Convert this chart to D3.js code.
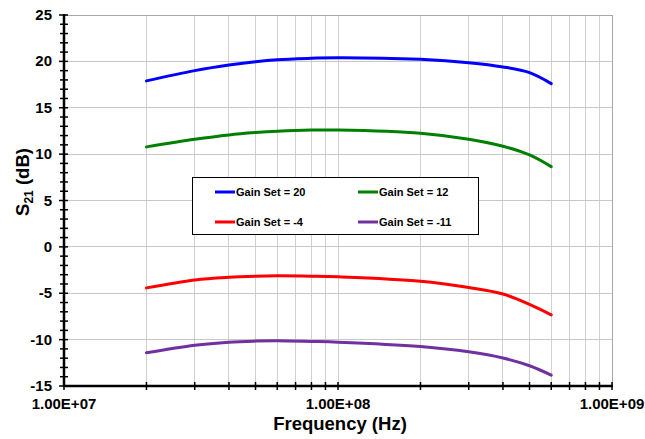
<!DOCTYPE html>
<html>
<head>
<meta charset="utf-8">
<script src="https://cdn.jsdelivr.net/npm/d3@7"></script>
<style>
  html, body { margin: 0; padding: 0; background: #fff; }
  svg { display: block; font-family: "Liberation Sans", Arial, sans-serif; }
</style>
</head>
<body>
<svg id="chart" width="645" height="439"></svg>
<script>
// ---- Data ----
const freqs = [2e7, 3e7, 4e7, 5e7, 6e7, 8e7, 1e8, 2e8, 3e8, 4e8, 5e8, 6e8];
const gain20  = [17.9, 19.0, 19.6, 19.97, 20.18, 20.33, 20.4, 20.22, 19.86, 19.4, 18.78, 17.6];
const gain12  = [10.78, 11.6, 12.07, 12.32, 12.47, 12.6, 12.6, 12.25, 11.6, 10.85, 9.91, 8.65];
const gainM4  = [-4.42, -3.56, -3.27, -3.16, -3.12, -3.16, -3.23, -3.7, -4.38, -5.08, -6.2, -7.33];
const gainM11 = [-11.42, -10.6, -10.27, -10.16, -10.13, -10.2, -10.27, -10.74, -11.31, -11.98, -12.82, -13.83];
const seriesNames = ["Gain Set = 20", "Gain Set = 12", "Gain Set = -4", "Gain Set = -11"];
const seriesColors = ["#0000ff", "#008000", "#ff0000", "#7030a0"];
const xTickLabels = ["1.00E+07", "1.00E+08", "1.00E+09"];
const xTickValues = [1e7, 1e8, 1e9];
const yTickValues = [-15, -10, -5, 0, 5, 10, 15, 20, 25];

const seriesValues = [gain20, gain12, gainM4, gainM11];

// ---- Layout ----
const svg = d3.select("#chart");
const x = d3.scaleLog().domain([1e7, 1e9]).range([64, 612]);
const y = d3.scaleLinear().domain([-15, 25]).range([386, 15]);

// minor x positions
const xMinor = [];
for (let d = 1e7; d < 1e9; d *= 10) for (let k = 1; k <= 9; k++) xMinor.push(d * k);
xMinor.push(1e9);

// grid
const grid = svg.append("g");
grid.selectAll("line.vg").data(xMinor.filter(v => v > 1e7))
  .enter().append("line")
  .attr("x1", d => x(d)).attr("x2", d => x(d))
  .attr("y1", y(-15)).attr("y2", y(25))
  .attr("stroke", "#d0d0d0").attr("stroke-width", 1)
  .attr("shape-rendering", "crispEdges");
grid.selectAll("line.hg").data(yTickValues.filter(v => v > -15))
  .enter().append("line")
  .attr("x1", x(1e7)).attr("x2", x(1e9))
  .attr("y1", d => y(d)).attr("y2", d => y(d))
  .attr("stroke", "#c8c8c8").attr("stroke-width", 1)
  .attr("shape-rendering", "crispEdges");
// border top/right
svg.append("line").attr("x1", x(1e7)).attr("x2", x(1e9)).attr("y1", y(25)).attr("y2", y(25))
  .attr("stroke", "#a6a6a6").attr("shape-rendering", "crispEdges");
svg.append("line").attr("x1", x(1e9)).attr("x2", x(1e9)).attr("y1", y(25)).attr("y2", y(-15))
  .attr("stroke", "#a6a6a6").attr("shape-rendering", "crispEdges");

// series
const line = d3.line()
  .x((d, i) => x(freqs[i]))
  .y(d => y(d))
  .curve(d3.curveCatmullRom.alpha(0.5));
seriesValues.forEach((vals, i) => {
  svg.append("path").datum(vals)
    .attr("d", line)
    .attr("fill", "none")
    .attr("stroke", seriesColors[i])
    .attr("stroke-width", 3)
    .attr("stroke-linecap", "round");
});

// Y axis
const gy = svg.append("g");
gy.append("line").attr("x1", x(1e7)).attr("x2", x(1e7)).attr("y1", y(25) - 1).attr("y2", y(-15) + 1)
  .attr("stroke", "#000").attr("stroke-width", 2.5);
gy.selectAll("line.yt").data(d3.range(-15, 26, 1)).enter().append("line")
  .attr("x1", d => x(1e7) - (d % 5 === 0 ? 5 : 4)).attr("x2", x(1e7) + 4)
  .attr("y1", d => y(d)).attr("y2", d => y(d))
  .attr("stroke", "#000").attr("stroke-width", 1.5);
gy.selectAll("text").data(yTickValues).enter().append("text")
  .attr("x", 52).attr("y", d => y(d) + 5)
  .attr("text-anchor", "end")
  .attr("font-size", 15).attr("font-weight", "bold")
  .text(d => d);

// X axis
const gx = svg.append("g");
gx.append("line").attr("x1", x(1e7) - 1).attr("x2", x(1e9) + 1).attr("y1", y(-15)).attr("y2", y(-15))
  .attr("stroke", "#000").attr("stroke-width", 2.5);
gx.selectAll("line.xt").data(xMinor).enter().append("line")
  .attr("x1", d => x(d)).attr("x2", d => x(d))
  .attr("y1", y(-15) - 4).attr("y2", y(-15) + 4)
  .attr("stroke", "#000").attr("stroke-width", 1.5);
gx.selectAll("text").data(xTickValues).enter().append("text")
  .attr("x", d => x(d)).attr("y", 409)
  .attr("text-anchor", "middle")
  .attr("font-size", 15).attr("font-weight", "bold")
  .text((d, i) => xTickLabels[i]);

// Axis titles
svg.append("text")
  .attr("x", 340).attr("y", 430)
  .attr("text-anchor", "middle")
  .attr("font-size", 18.5).attr("font-weight", "bold")
  .text("Frequency (Hz)");
const yt = svg.append("text")
  .attr("transform", "translate(29,182) rotate(-90)")
  .attr("text-anchor", "middle")
  .attr("font-size", 18.5).attr("font-weight", "bold");
yt.append("tspan").text("S");
yt.append("tspan").attr("font-size", 12).attr("dy", 4).text("21");
yt.append("tspan").attr("dy", -4).text(" (dB)");

// Legend
const lg = svg.append("g");
lg.append("rect").attr("x", 192.5).attr("y", 177.5).attr("width", 286).attr("height", 57)
  .attr("fill", "#fff").attr("stroke", "#000").attr("stroke-width", 1);
const legPos = [[215, 192], [358, 192], [215, 222], [358, 222]];
seriesNames.forEach((name, i) => {
  const [lx, ly] = legPos[i];
  lg.append("line").attr("x1", lx).attr("x2", lx + 20).attr("y1", ly).attr("y2", ly)
    .attr("stroke", seriesColors[i]).attr("stroke-width", 3);
  lg.append("text").attr("x", lx + 21).attr("y", ly + 4)
    .attr("font-size", 11).attr("font-weight", "bold")
    .text(name);
});
</script>
</body>
</html>
